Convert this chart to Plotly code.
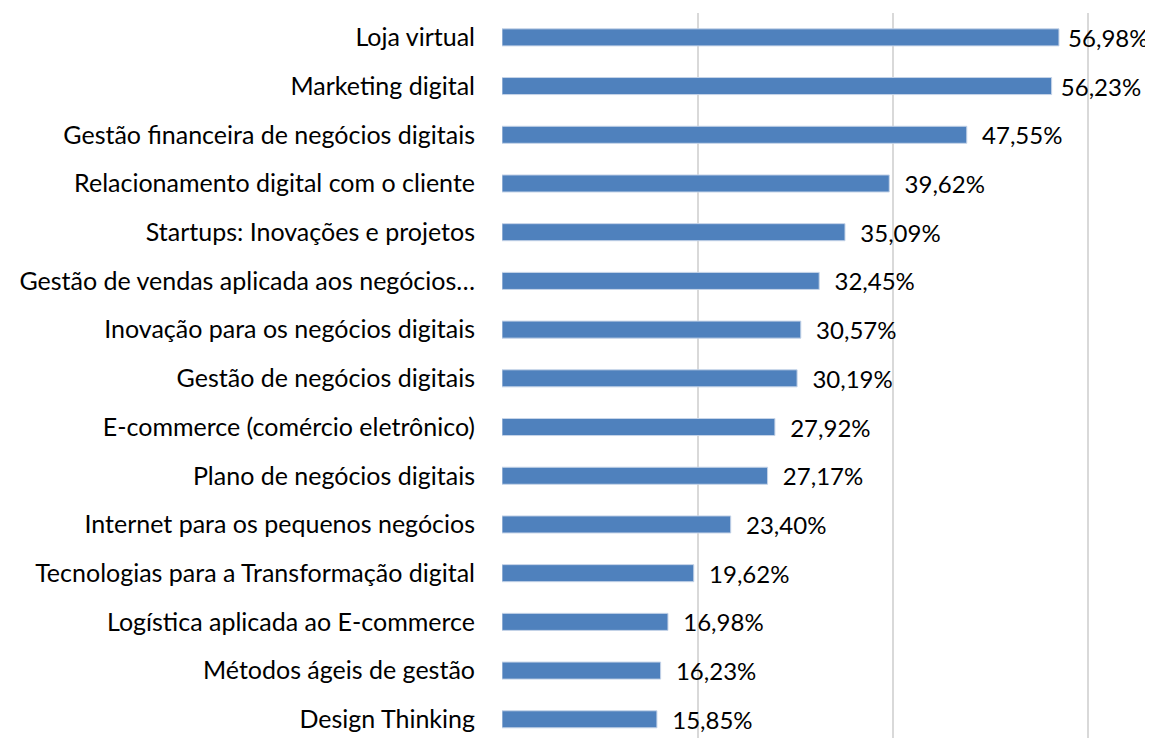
import plotly.graph_objects as go

categories = [
    "Loja virtual",
    "Marketing digital",
    "Gestão financeira de negócios digitais",
    "Relacionamento digital com o cliente",
    "Startups: Inovações e projetos",
    "Gestão de vendas aplicada aos negócios…",
    "Inovação para os negócios digitais",
    "Gestão de negócios digitais",
    "E-commerce (comércio eletrônico)",
    "Plano de negócios digitais",
    "Internet para os pequenos negócios",
    "Tecnologias para a Transformação digital",
    "Logística aplicada ao E-commerce",
    "Métodos ágeis de gestão",
    "Design Thinking",
]
values = [56.98, 56.23, 47.55, 39.62, 35.09, 32.45, 30.57, 30.19, 27.92, 27.17,
          23.40, 19.62, 16.98, 16.23, 15.85]
tick_values = [0, 20, 40, 60]

cats_plot = categories[::-1]
vals_plot = values[::-1]
n = len(vals_plot)
labels = []
for i, v in enumerate(vals_plot):
    pad = "\u00a0" if i >= n - 2 else "\u00a0\u00a0"
    labels.append(pad + f"{v:.2f}".replace(".", ",") + "%")

FONT = "Lato, Carlito, Calibri, sans-serif"
FS = 25

fig = go.Figure(go.Bar(
    y=cats_plot,
    x=vals_plot,
    orientation="h",
    text=labels,
    textposition="outside",
    constraintext="none",
    cliponaxis=False,
    textfont=dict(family=FONT, size=24, color="#000000"),
    marker=dict(color="#4f81bd", line=dict(color="#c6d4e8", width=1)),
    width=0.35,
))

fig.update_layout(
    width=1145,
    height=730,
    margin=dict(l=494, r=0, t=5, b=0, autoexpand=False),
    paper_bgcolor="white",
    plot_bgcolor="white",
    showlegend=False,
    font=dict(family=FONT, size=FS, color="#000000"),
    xaxis=dict(
        range=[0, 66.6],
        tickvals=tick_values,
        showticklabels=False,
        showgrid=True,
        gridcolor="#d9d9d9",
        gridwidth=2,
        zeroline=False,
        showline=False,
    ),
    yaxis=dict(
        type="category",
        range=[-0.384, 14.5],
        showgrid=False,
        showline=False,
        ticks="",
        automargin=False,
        ticklabelstandoff=26,
        tickfont=dict(family=FONT, size=FS, color="#000000"),
    ),
)

fig.write_html("out.html")
